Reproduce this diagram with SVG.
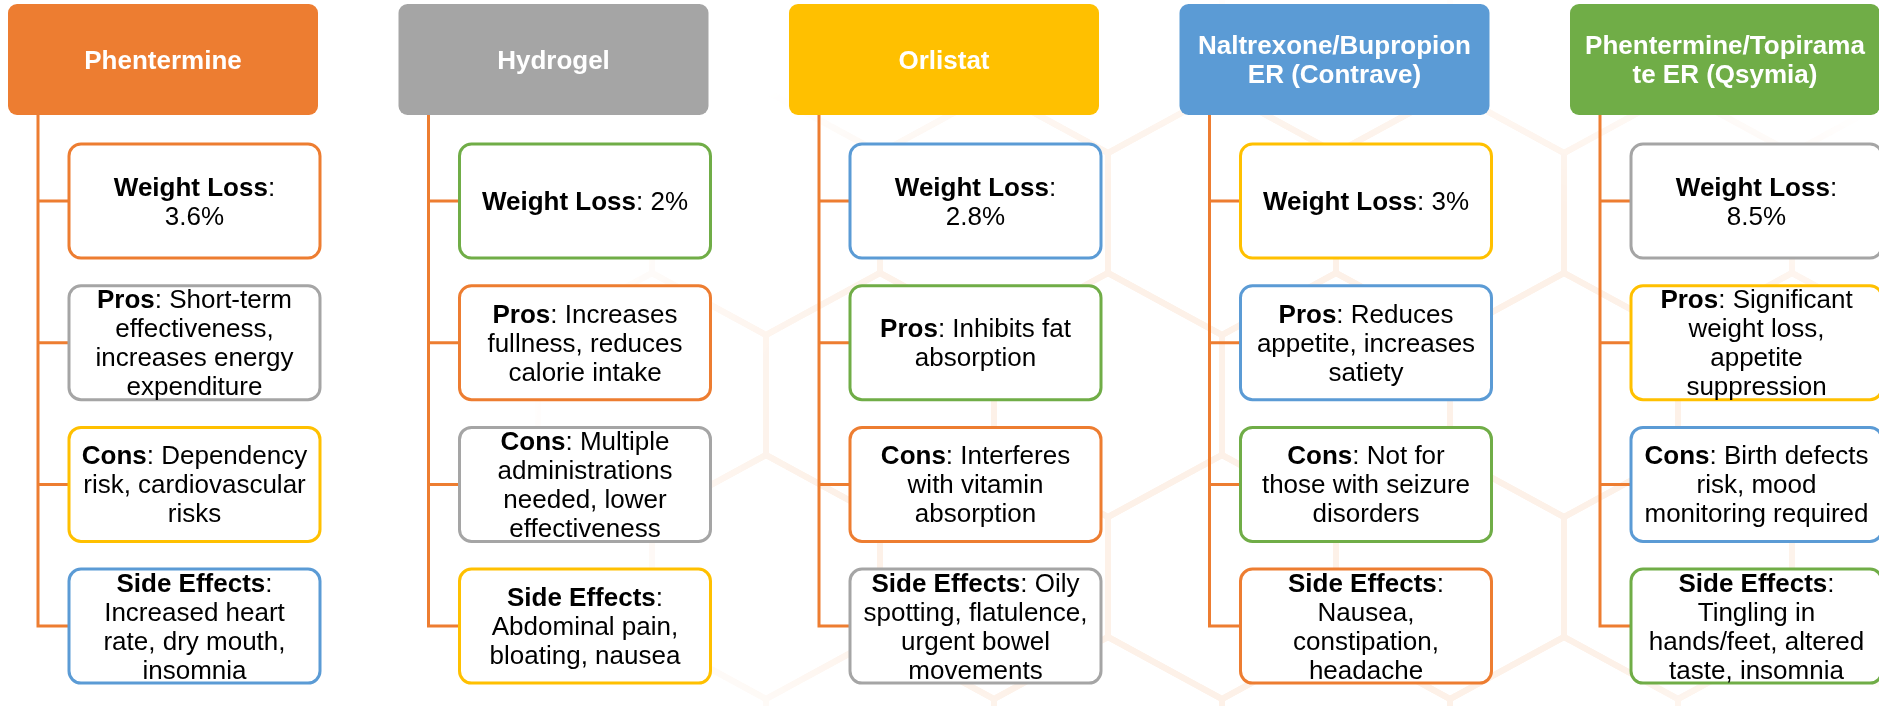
<svg xmlns="http://www.w3.org/2000/svg" xmlns:xlink="http://www.w3.org/1999/xlink" width="1879" height="706" viewBox="0 0 1879 706">
<style>
text{font-family:"Liberation Sans",Arial,sans-serif;font-size:26px;text-anchor:middle;fill:#000}
.h text{fill:#fff;font-weight:bold}
.b{font-weight:bold}
.bx{fill:#fff;stroke-width:3}
.o{stroke:#ED7D31}.g{stroke:#A5A5A5}.y{stroke:#FFC000}.bl{stroke:#5B9BD5}.gr{stroke:#70AD47}
.fo{fill:#ED7D31}.fg{fill:#A5A5A5}.fy{fill:#FFC000}.fb{fill:#5B9BD5}.fgr{fill:#70AD47}
.hex use{fill:none;stroke:#FDF1E8;stroke-width:6}
#conn path{fill:none;stroke:#ED7D31;stroke-width:3}
</style>
<defs>
<path id="hx" d="M0,-122 L114,-60 L114,60 L0,122 L-114,60 L-114,-60 Z"/>
<radialGradient id="rg" gradientUnits="userSpaceOnUse" cx="1300" cy="450" r="800" gradientTransform="translate(1300 450) scale(1 0.6) translate(-1300 -450)">
<stop offset="0.6" stop-color="#fff"/><stop offset="1" stop-color="#000"/>
</radialGradient>
<mask id="fade" maskUnits="userSpaceOnUse" x="0" y="0" width="1879" height="706"><rect width="1879" height="706" fill="url(#rg)"/></mask>
</defs>
<rect width="1879" height="706" fill="#fff"/>
<g class="hex" mask="url(#fade)">
<use xlink:href="#hx" x="424" y="31"/><use xlink:href="#hx" x="652" y="31"/><use xlink:href="#hx" x="880" y="31"/><use xlink:href="#hx" x="1108" y="31"/><use xlink:href="#hx" x="1336" y="31"/><use xlink:href="#hx" x="1564" y="31"/><use xlink:href="#hx" x="1792" y="31"/>
<use xlink:href="#hx" x="310" y="213"/><use xlink:href="#hx" x="538" y="213"/><use xlink:href="#hx" x="766" y="213"/><use xlink:href="#hx" x="994" y="213"/><use xlink:href="#hx" x="1222" y="213"/><use xlink:href="#hx" x="1450" y="213"/><use xlink:href="#hx" x="1678" y="213"/><use xlink:href="#hx" x="1906" y="213"/>
<use xlink:href="#hx" x="424" y="395"/><use xlink:href="#hx" x="652" y="395"/><use xlink:href="#hx" x="880" y="395"/><use xlink:href="#hx" x="1108" y="395"/><use xlink:href="#hx" x="1336" y="395"/><use xlink:href="#hx" x="1564" y="395"/><use xlink:href="#hx" x="1792" y="395"/>
<use xlink:href="#hx" x="310" y="577"/><use xlink:href="#hx" x="538" y="577"/><use xlink:href="#hx" x="766" y="577"/><use xlink:href="#hx" x="994" y="577"/><use xlink:href="#hx" x="1222" y="577"/><use xlink:href="#hx" x="1450" y="577"/><use xlink:href="#hx" x="1678" y="577"/><use xlink:href="#hx" x="1906" y="577"/>
<use xlink:href="#hx" x="424" y="759"/><use xlink:href="#hx" x="652" y="759"/><use xlink:href="#hx" x="880" y="759"/><use xlink:href="#hx" x="1108" y="759"/><use xlink:href="#hx" x="1336" y="759"/><use xlink:href="#hx" x="1564" y="759"/><use xlink:href="#hx" x="1792" y="759"/>
</g>
<g id="conn">
<path d="M38,115V626.1H69M38,201H69M38,342.7H69M38,484.4H69"/>
<path d="M428.5,115V626.1H459.5M428.5,201H459.5M428.5,342.7H459.5M428.5,484.4H459.5"/>
<path d="M819,115V626.1H850M819,201H850M819,342.7H850M819,484.4H850"/>
<path d="M1209.5,115V626.1H1240.5M1209.5,201H1240.5M1209.5,342.7H1240.5M1209.5,484.4H1240.5"/>
<path d="M1600,115V626.1H1631M1600,201H1631M1600,342.7H1631M1600,484.4H1631"/>
</g>

<g id="phentermine" class="h"><rect class="fo" x="8" y="4" width="310" height="111" rx="9"/><text x="163" y="68.5">Phentermine</text></g>
<g id="hydrogel" class="h"><rect class="fg" x="398.5" y="4" width="310" height="111" rx="9"/><text x="553.5" y="68.5">Hydrogel</text></g>
<g id="orlistat" class="h"><rect class="fy" x="789" y="4" width="310" height="111" rx="9"/><text x="944" y="68.5">Orlistat</text></g>
<g id="contrave" class="h"><rect class="fb" x="1179.5" y="4" width="310" height="111" rx="9"/><text x="1334.5" y="54">Naltrexone/Bupropion<tspan x="1334.5" dy="29">ER (Contrave)</tspan></text></g>
<g id="qsymia" class="h"><rect class="fgr" x="1570" y="4" width="310" height="111" rx="9"/><text x="1725" y="54">Phentermine/Topirama<tspan x="1725" dy="29">te ER (Qsymia)</tspan></text></g>

<g id="phentermine-weight"><rect class="bx o" x="69" y="144" width="251" height="114" rx="12"/><text x="194.5" y="195.5"><tspan class="b">Weight Loss</tspan>:<tspan x="194.5" dy="29">3.6%</tspan></text></g>
<g id="phentermine-pros"><rect class="bx g" x="69" y="285.7" width="251" height="114" rx="12"/><text x="194.5" y="308.2"><tspan class="b">Pros</tspan>: Short-term<tspan x="194.5" dy="29">effectiveness,</tspan><tspan x="194.5" dy="29">increases energy</tspan><tspan x="194.5" dy="29">expenditure</tspan></text></g>
<g id="phentermine-cons"><rect class="bx y" x="69" y="427.4" width="251" height="114" rx="12"/><text x="194.5" y="464.4"><tspan class="b">Cons</tspan>: Dependency<tspan x="194.5" dy="29">risk, cardiovascular</tspan><tspan x="194.5" dy="29">risks</tspan></text></g>
<g id="phentermine-side"><rect class="bx bl" x="69" y="569.1" width="251" height="114" rx="12"/><text x="194.5" y="591.6"><tspan class="b">Side Effects</tspan>:<tspan x="194.5" dy="29">Increased heart</tspan><tspan x="194.5" dy="29">rate, dry mouth,</tspan><tspan x="194.5" dy="29">insomnia</tspan></text></g>

<g id="hydrogel-weight"><rect class="bx gr" x="459.5" y="144" width="251" height="114" rx="12"/><text x="585" y="210"><tspan class="b">Weight Loss</tspan>: 2%</text></g>
<g id="hydrogel-pros"><rect class="bx o" x="459.5" y="285.7" width="251" height="114" rx="12"/><text x="585" y="322.7"><tspan class="b">Pros</tspan>: Increases<tspan x="585" dy="29">fullness, reduces</tspan><tspan x="585" dy="29">calorie intake</tspan></text></g>
<g id="hydrogel-cons"><rect class="bx g" x="459.5" y="427.4" width="251" height="114" rx="12"/><text x="585" y="449.9"><tspan class="b">Cons</tspan>: Multiple<tspan x="585" dy="29">administrations</tspan><tspan x="585" dy="29">needed, lower</tspan><tspan x="585" dy="29">effectiveness</tspan></text></g>
<g id="hydrogel-side"><rect class="bx y" x="459.5" y="569.1" width="251" height="114" rx="12"/><text x="585" y="606.1"><tspan class="b">Side Effects</tspan>:<tspan x="585" dy="29">Abdominal pain,</tspan><tspan x="585" dy="29">bloating, nausea</tspan></text></g>

<g id="orlistat-weight"><rect class="bx bl" x="850" y="144" width="251" height="114" rx="12"/><text x="975.5" y="195.5"><tspan class="b">Weight Loss</tspan>:<tspan x="975.5" dy="29">2.8%</tspan></text></g>
<g id="orlistat-pros"><rect class="bx gr" x="850" y="285.7" width="251" height="114" rx="12"/><text x="975.5" y="337.2"><tspan class="b">Pros</tspan>: Inhibits fat<tspan x="975.5" dy="29">absorption</tspan></text></g>
<g id="orlistat-cons"><rect class="bx o" x="850" y="427.4" width="251" height="114" rx="12"/><text x="975.5" y="464.4"><tspan class="b">Cons</tspan>: Interferes<tspan x="975.5" dy="29">with vitamin</tspan><tspan x="975.5" dy="29">absorption</tspan></text></g>
<g id="orlistat-side"><rect class="bx g" x="850" y="569.1" width="251" height="114" rx="12"/><text x="975.5" y="591.6"><tspan class="b">Side Effects</tspan>: Oily<tspan x="975.5" dy="29">spotting, flatulence,</tspan><tspan x="975.5" dy="29">urgent bowel</tspan><tspan x="975.5" dy="29">movements</tspan></text></g>

<g id="contrave-weight"><rect class="bx y" x="1240.5" y="144" width="251" height="114" rx="12"/><text x="1366" y="210"><tspan class="b">Weight Loss</tspan>: 3%</text></g>
<g id="contrave-pros"><rect class="bx bl" x="1240.5" y="285.7" width="251" height="114" rx="12"/><text x="1366" y="322.7"><tspan class="b">Pros</tspan>: Reduces<tspan x="1366" dy="29">appetite, increases</tspan><tspan x="1366" dy="29">satiety</tspan></text></g>
<g id="contrave-cons"><rect class="bx gr" x="1240.5" y="427.4" width="251" height="114" rx="12"/><text x="1366" y="464.4"><tspan class="b">Cons</tspan>: Not for<tspan x="1366" dy="29">those with seizure</tspan><tspan x="1366" dy="29">disorders</tspan></text></g>
<g id="contrave-side"><rect class="bx o" x="1240.5" y="569.1" width="251" height="114" rx="12"/><text x="1366" y="591.6"><tspan class="b">Side Effects</tspan>:<tspan x="1366" dy="29">Nausea,</tspan><tspan x="1366" dy="29">constipation,</tspan><tspan x="1366" dy="29">headache</tspan></text></g>

<g id="qsymia-weight"><rect class="bx g" x="1631" y="144" width="251" height="114" rx="12"/><text x="1756.5" y="195.5"><tspan class="b">Weight Loss</tspan>:<tspan x="1756.5" dy="29">8.5%</tspan></text></g>
<g id="qsymia-pros"><rect class="bx y" x="1631" y="285.7" width="251" height="114" rx="12"/><text x="1756.5" y="308.2"><tspan class="b">Pros</tspan>: Significant<tspan x="1756.5" dy="29">weight loss,</tspan><tspan x="1756.5" dy="29">appetite</tspan><tspan x="1756.5" dy="29">suppression</tspan></text></g>
<g id="qsymia-cons"><rect class="bx bl" x="1631" y="427.4" width="251" height="114" rx="12"/><text x="1756.5" y="464.4"><tspan class="b">Cons</tspan>: Birth defects<tspan x="1756.5" dy="29">risk, mood</tspan><tspan x="1756.5" dy="29">monitoring required</tspan></text></g>
<g id="qsymia-side"><rect class="bx gr" x="1631" y="569.1" width="251" height="114" rx="12"/><text x="1756.5" y="591.6"><tspan class="b">Side Effects</tspan>:<tspan x="1756.5" dy="29">Tingling in</tspan><tspan x="1756.5" dy="29">hands/feet, altered</tspan><tspan x="1756.5" dy="29">taste, insomnia</tspan></text></g>
</svg>
